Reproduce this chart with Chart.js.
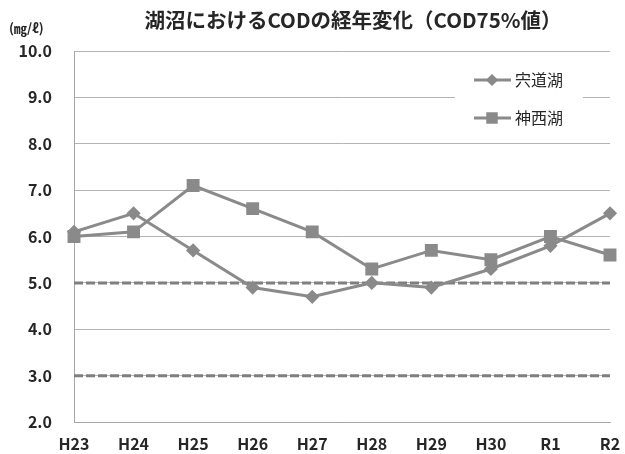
<!DOCTYPE html>
<html><head><meta charset="utf-8">
<script src="https://cdn.jsdelivr.net/npm/chart.js@4/dist/chart.umd.min.js"></script>
<style>html,body{margin:0;padding:0;background:#fff}#wrap{width:625px;height:454px}</style>
</head><body><div id="wrap"><canvas id="c" width="625" height="454"></canvas></div>
<script>
const categories = ['H23','H24','H25','H26','H27','H28','H29','H30','R1','R2'];
const shinjiko = [6.1, 6.5, 5.7, 4.9, 4.7, 5.0, 4.9, 5.3, 5.8, 6.5];
const jinzaiko = [6.0, 6.1, 7.1, 6.6, 6.1, 5.3, 5.7, 5.5, 6.0, 5.6];
const refLine5 = [5,5,5,5,5,5,5,5,5,5];
const refLine3 = [3,3,3,3,3,3,3,3,3,3];
const seriesNames = ['宍道湖','神西湖'];
const titleText = '湖沼におけるCODの経年変化（COD75%値）';
const unitText = '(㎎/ℓ)';
const yTicks = [2,3,4,5,6,7,8,9,10];

const FONT = '"Noto Sans CJK JP", "Noto Sans", sans-serif';
const LINE = '#8a8a8a';
const TXT = '#262626';

const overlay = {
  id: 'overlay',
  afterDraw(chart) {
    const ctx = chart.ctx;
    ctx.save();
    ctx.fillStyle = TXT;
    ctx.textBaseline = 'middle';
    ctx.font = 'bold 20.5px ' + FONT;
    ctx.textAlign = 'center';
    ctx.fillText(titleText, 353, 20);
    ctx.font = 'bold 13px ' + FONT;
    ctx.textAlign = 'left';
    ctx.fillText(unitText, 9, 28);
    // legend
    ctx.fillStyle = '#fff';
    ctx.fillRect(455, 58, 128, 80);
    const ys = [80, 118];
    [0,1].forEach(i => {
      const ds = chart.data.datasets[i];
      const y = ys[i];
      ctx.strokeStyle = ds.borderColor;
      ctx.lineWidth = 3;
      ctx.beginPath(); ctx.moveTo(474, y); ctx.lineTo(511, y); ctx.stroke();
      Chart.helpers.drawPoint(ctx, {pointStyle: ds.pointStyle, radius: ds.pointRadius - 1, borderWidth: 1, rotation: 0}, 492, y);
      ctx.fillStyle = ds.borderColor;
      ctx.fill();
      ctx.fillStyle = TXT;
      ctx.font = '16px ' + FONT;
      ctx.textAlign = 'left';
      ctx.fillText(seriesNames[i], 515, y);
    });
    ctx.restore();
  }
};

new Chart(document.getElementById('c'), {
  type: 'line',
  data: {
    labels: categories,
    datasets: [
      {label: seriesNames[0], data: shinjiko, borderColor: LINE, backgroundColor: LINE, borderWidth: 3,
       pointStyle: 'rectRot', pointRadius: 5, pointBorderColor: LINE, pointBackgroundColor: LINE, order: 1},
      {label: seriesNames[1], data: jinzaiko, borderColor: LINE, backgroundColor: LINE, borderWidth: 3,
       pointStyle: 'rect', pointRadius: 7, pointBorderColor: LINE, pointBackgroundColor: LINE, order: 0},
      {label: 'ref5', data: refLine5, borderColor: '#7f7f7f', borderWidth: 3, borderDash: [9,3], pointRadius: 0, order: 2},
      {label: 'ref3', data: refLine3, borderColor: '#7f7f7f', borderWidth: 3, borderDash: [9,3], pointRadius: 0, order: 2}
    ]
  },
  options: {
    responsive: false,
    animation: false,
    events: [],
    layout: {padding: {top: 51, right: 15, bottom: 0, left: 0}},
    plugins: {legend: {display: false}, title: {display: false}, tooltip: {enabled: false}},
    scales: {
      x: {
        offset: false,
        afterFit(s) { s.height = 32; s.paddingRight = 0; s.paddingLeft = 0; },
        grid: {display: false, drawTicks: false},
        border: {display: true, color: '#a6a6a6', width: 1},
        ticks: {padding: 12, color: TXT, font: {family: FONT, size: 16, weight: 'bold'}, maxRotation: 0, autoSkip: false}
      },
      y: {
        min: 2, max: 10,
        afterFit(s) { s.width = 74; s.paddingTop = 0; s.paddingBottom = 0; },
        afterBuildTicks(s) { s.ticks = yTicks.map(v => ({value: v})); },
        grid: {color: '#b3b3b3', lineWidth: 1, drawTicks: false},
        border: {display: true, color: '#a6a6a6', width: 1},
        ticks: {padding: 22, color: TXT, font: {family: FONT, size: 16, weight: 'bold'}, callback: v => Number(v).toFixed(1)}
      }
    }
  },
  plugins: [overlay]
});
</script>
</body></html>
